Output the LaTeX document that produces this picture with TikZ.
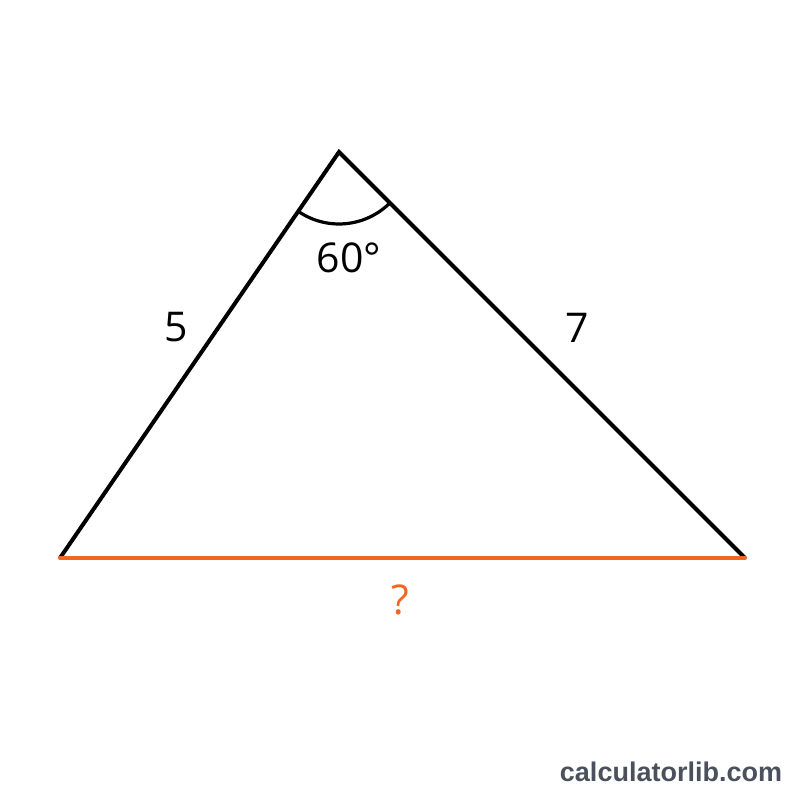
\documentclass[tikz,border=0pt]{standalone}
\usepackage{fontspec}
\setmainfont{Open Sans}
\newfontfamily\wmfont{Liberation Sans}
\definecolor{sideorange}{HTML}{F26522}
\definecolor{wmgray}{HTML}{4A505C}
\begin{document}
\begin{tikzpicture}[x=1pt,y=1pt,
  edge/.style={line width=4pt, black, line join=miter},
  unknown/.style={line width=4pt, sideorange, line cap=round},
  anglearc/.style={line width=3.2pt, black},
  lbl/.style={font=\fontsize{41}{48}\selectfont, inner sep=0pt},
  wm/.style={font=\wmfont\bfseries\fontsize{27}{30}\selectfont, text=wmgray, inner sep=0pt}]
\useasboundingbox (0,0) rectangle (800,800);
\coordinate (A) at (339,648);
\coordinate (B) at (60,242);
\coordinate (C) at (745,242);
\draw[edge] (B) -- (A) -- (C);
\draw[unknown] (B) -- (C);
\draw[anglearc] ([shift={(235.5:72)}]A) arc[start angle=235.5, end angle=315, radius=72];
\node[lbl] (ang) at (349,542) {60°};
\node[lbl] (a) at (176,473) {5};
\node[lbl] (b) at (577,472) {7};
\node[lbl, text=sideorange] (q) at (400,200) {?};
\node[wm] (w) at (671,28) {calculatorlib.com};
\end{tikzpicture}
\end{document}
